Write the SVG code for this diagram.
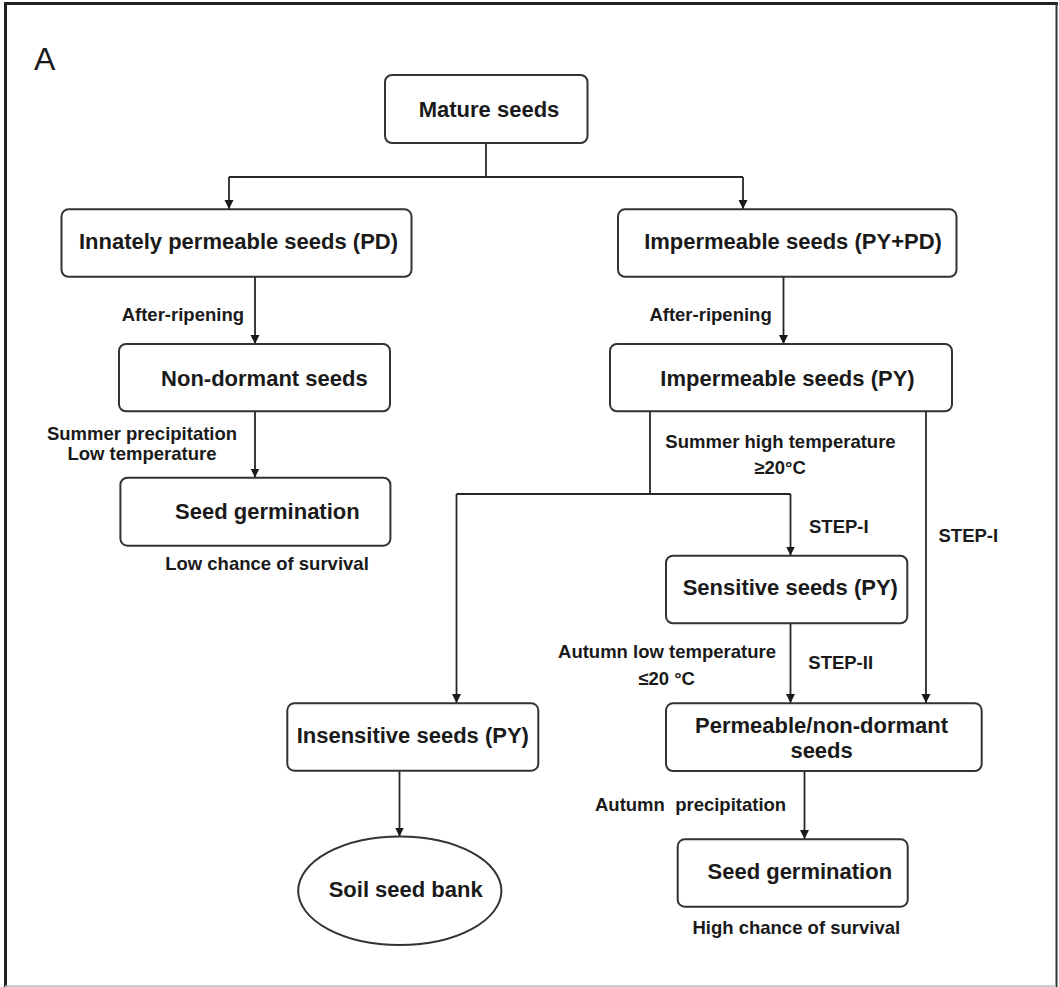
<svg xmlns="http://www.w3.org/2000/svg" width="1059" height="987" viewBox="0 0 1059 987">
<style>
.box{fill:#fff;stroke:#333;stroke-width:2}
.t{font-family:"Liberation Sans",Arial,sans-serif;font-weight:bold;font-size:22px;fill:#1a1a1a;text-anchor:middle}
.l{font-family:"Liberation Sans",Arial,sans-serif;font-weight:bold;font-size:18.5px;fill:#1a1a1a;white-space:pre}
.c{fill:none;stroke:#262626;stroke-width:1.8}
</style>
<defs>
<marker id="ah" viewBox="0 0 10 10" refX="10" refY="5" markerWidth="9" markerHeight="10" markerUnits="userSpaceOnUse" orient="auto">
<path d="M0,0 L10,5 L0,10 z" fill="#1a1a1a"/>
</marker>
</defs>
<rect x="0" y="0" width="1059" height="987" fill="#fff"/>
<g id="frame">
<line x1="5.5" y1="2" x2="5.5" y2="987" stroke="#222" stroke-width="3"/>
<line x1="4" y1="3.5" x2="1058" y2="3.5" stroke="#222" stroke-width="3"/>
<line x1="1056.5" y1="2" x2="1056.5" y2="987" stroke="#333" stroke-width="2"/>
<line x1="5" y1="986" x2="1056" y2="986" stroke="#bbb" stroke-width="1.5"/>
</g>
<text x="34" y="69.5" style="font-family:'Liberation Sans',Arial,sans-serif;font-size:32px;fill:#1a1a1a">A</text>

<g id="connectors">
<polyline class="c" points="486,143 486,177"/>
<polyline class="c" points="229,177 743,177"/>
<line class="c" x1="229" y1="177" x2="229" y2="209" marker-end="url(#ah)"/>
<line class="c" x1="743" y1="177" x2="743" y2="209" marker-end="url(#ah)"/>
<line class="c" x1="255" y1="277" x2="255" y2="344" marker-end="url(#ah)"/>
<line class="c" x1="783.5" y1="277" x2="783.5" y2="344" marker-end="url(#ah)"/>
<line class="c" x1="255" y1="411" x2="255" y2="477.5" marker-end="url(#ah)"/>
<polyline class="c" points="650,411 650,494"/>
<polyline class="c" points="456.5,494 790.5,494"/>
<line class="c" x1="790.5" y1="494" x2="790.5" y2="555.5" marker-end="url(#ah)"/>
<line class="c" x1="456.5" y1="494" x2="456.5" y2="703" marker-end="url(#ah)"/>
<line class="c" x1="926" y1="411" x2="926" y2="703" marker-end="url(#ah)"/>
<line class="c" x1="790.5" y1="623" x2="790.5" y2="703" marker-end="url(#ah)"/>
<line class="c" x1="804.5" y1="771" x2="804.5" y2="839" marker-end="url(#ah)"/>
<line class="c" x1="399.5" y1="771" x2="399.5" y2="836.5" marker-end="url(#ah)"/>
</g>

<g id="labels">
<text class="l" x="244" y="320.7" text-anchor="end">After-ripening</text>
<text class="l" x="771.7" y="320.7" text-anchor="end">After-ripening</text>
<text class="l" x="142" y="440" text-anchor="middle">Summer precipitation</text>
<text class="l" x="142" y="460" text-anchor="middle">Low temperature</text>
<text class="l" x="267" y="570" text-anchor="middle">Low chance of survival</text>
<text class="l" x="780.5" y="447.7" text-anchor="middle">Summer high temperature</text>
<text class="l" x="780" y="474" text-anchor="middle">≥20°C</text>
<text class="l" x="809" y="533.3">STEP-I</text>
<text class="l" x="938.5" y="542.3">STEP-I</text>
<text class="l" x="667" y="658.3" text-anchor="middle">Autumn low temperature</text>
<text class="l" x="666.6" y="685" text-anchor="middle">≤20 °C</text>
<text class="l" x="808.3" y="669.3">STEP-II</text>
<text class="l" x="595" y="810.7">Autumn  precipitation</text>
<text class="l" x="796.3" y="934" text-anchor="middle">High chance of survival</text>
</g>

<g id="mature">
<rect class="box" x="385" y="75" width="202.5" height="68" rx="7"/>
<text class="t" x="489" y="116.7">Mature seeds</text>
</g>
<g id="innately">
<rect class="box" x="61.5" y="209.3" width="350" height="67.5" rx="7"/>
<text class="t" x="238.5" y="249.3">Innately permeable seeds (PD)</text>
</g>
<g id="impermeable-pypd">
<rect class="box" x="618" y="209.3" width="338.5" height="67.5" rx="7"/>
<text class="t" x="793" y="249.3">Impermeable seeds (PY+PD)</text>
</g>
<g id="nondormant">
<rect class="box" x="119" y="344" width="271" height="67.3" rx="7"/>
<text class="t" x="264.4" y="385.7">Non-dormant seeds</text>
</g>
<g id="germination-left">
<rect class="box" x="120.4" y="477.7" width="270" height="68" rx="7"/>
<text class="t" x="267.4" y="519.3">Seed germination</text>
</g>
<g id="impermeable-py">
<rect class="box" x="610" y="344" width="342" height="67.3" rx="7"/>
<text class="t" x="787.5" y="385.7">Impermeable seeds (PY)</text>
</g>
<g id="sensitive">
<rect class="box" x="666" y="555.7" width="241.3" height="67.6" rx="7"/>
<text class="t" x="790.3" y="595">Sensitive seeds (PY)</text>
</g>
<g id="insensitive">
<rect class="box" x="287.3" y="703.3" width="251" height="67.4" rx="7"/>
<text class="t" x="412.8" y="743.3">Insensitive seeds (PY)</text>
</g>
<g id="permeable">
<rect class="box" x="666" y="703.3" width="315.7" height="67.7" rx="7"/>
<text class="t" x="821.6" y="732.7">Permeable/non-dormant</text>
<text class="t" x="821.6" y="758.3">seeds</text>
</g>
<g id="germination-right">
<rect class="box" x="677.7" y="839.3" width="230" height="67.4" rx="7"/>
<text class="t" x="799.8" y="879">Seed germination</text>
</g>
<g id="soilbank">
<ellipse class="box" cx="399.8" cy="890.8" rx="101.6" ry="54.2"/>
<text class="t" x="405.7" y="897.3">Soil seed bank</text>
</g>
</svg>
